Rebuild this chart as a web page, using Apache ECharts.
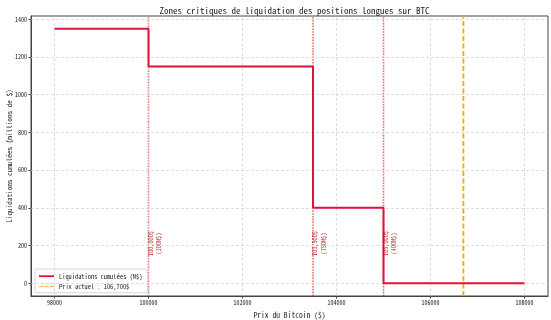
<!DOCTYPE html>
<html><head><meta charset="utf-8">
<script src="https://cdn.jsdelivr.net/npm/echarts@6/dist/echarts.min.js"></script>
<style>html,body{margin:0;padding:0;background:#fff}#c{width:551px;height:320px}</style>
</head><body><div id="c"></div>
<script>
// ---- data ----
const stepPrices = [98000, 100000, 103500, 105000, 108000];
const cumLiquidations = [1350, 1150, 400, 0, 0];
const zonePrices = [100000, 103500, 105000];
const zoneAmounts = [200, 750, 400];
const zoneLabels = ['100,000$\n(200M$)', '103,500$\n(750M$)', '105,000$\n(400M$)'];
const labelLevel = 200;
const currentPrice = 106700;
const xTicks = [98000, 100000, 102000, 104000, 106000, 108000];
const yTicks = [0, 200, 400, 600, 800, 1000, 1200, 1400];
const seriesName = 'Liquidations cumulées (M$)';
const priceName = 'Prix actuel : 106,700$';
const titleText = 'Zones critiques de liquidation des positions longues sur BTC';
const xName = 'Prix du Bitcoin ($)';
const yName = 'Liquidations cumulées (millions de $)';

const X_MIN = 97500, X_MAX = 108500, Y_MIN = -67.5, Y_MAX = 1417.5;
const FONT = "'Noto Sans Mono CJK SC','Noto Sans CJK SC','DejaVu Sans Mono',monospace";
const AX = '#444';
const RED = '#dc143c', ORANGE = '#ffa500';

const zoneSeries = zonePrices.map((p, i) => ({
  name: 'zone' + i, type: 'line', symbol: 'none', silent: true, z: 3,
  color: '#ff2020',
  data: [[p, Y_MIN], [p, Y_MAX]],
  lineStyle: {color: '#ff0000', opacity: 0.6, type: [1.6, 1.2], width: 1.6}
}));

const chart = echarts.init(document.getElementById('c'), null, {renderer: 'canvas'});
const option = {
  animation: false,
  backgroundColor: '#fff',
  textStyle: {fontFamily: FONT},
  title: {
    text: titleText, left: 289.5, textAlign: 'center', top: 1,
    textStyle: {fontFamily: FONT, fontSize: 9, fontWeight: 'normal', color: '#222'}
  },
  grid: {left: 31, right: 3, top: 16, bottom: 24, outerBoundsMode: 'none', containLabel: false,
         show: true, borderColor: AX, borderWidth: 1, backgroundColor: 'transparent'},
  legend: {
    left: 35, top: 269, orient: 'vertical',
    data: [
      {name: seriesName, icon: 'rect', itemStyle: {color: RED}},
      {name: priceName, icon: 'path://M0,0h5v1h-5z M7,0h5v1h-5z M14,0h5v1h-5z', itemStyle: {color: ORANGE}}
    ],
    itemWidth: 15, itemHeight: 1.8, itemGap: 4,
    textStyle: {fontFamily: FONT, fontSize: 6.4, color: '#222'},
    borderColor: '#ccc', borderWidth: 0.8, borderRadius: 2,
    padding: [4, 5, 3, 4], backgroundColor: 'rgba(255,255,255,0.8)'
  },
  xAxis: {
    type: 'value', min: X_MIN, max: X_MAX,
    name: xName, nameLocation: 'middle', nameGap: 15, nameMoveOverlap: false,
    nameTextStyle: {fontFamily: FONT, fontSize: 7.6, color: '#222'},
    axisLine: {onZero: false, lineStyle: {color: AX, width: 1}},
    axisTick: {show: true, customValues: xTicks, length: 2.5, lineStyle: {color: AX}},
    axisLabel: {customValues: xTicks, formatter: v => String(v), fontSize: 6, color: '#222', margin: 4, fontFamily: FONT},
    splitLine: {show: false}
  },
  yAxis: {
    type: 'value', min: Y_MIN, max: Y_MAX,
    name: yName, nameLocation: 'middle', nameGap: 18, nameRotate: 90, nameMoveOverlap: false,
    nameTextStyle: {fontFamily: FONT, fontSize: 7.2, color: '#222'},
    axisLine: {show: true, onZero: false, lineStyle: {color: AX, width: 1}},
    axisTick: {show: true, customValues: yTicks, length: 2.5, lineStyle: {color: AX}},
    axisLabel: {customValues: yTicks, formatter: v => String(v), fontSize: 6, color: '#222', margin: 4, fontFamily: FONT},
    splitLine: {show: false}
  },
  series: [
    {
      name: 'grid', type: 'line', data: [], silent: true,
      markLine: {
        silent: true, symbol: ['none', 'none'], label: {show: false}, animation: false,
        lineStyle: {color: '#d0d0d0', type: [3, 2], width: 0.7},
        data: xTicks.map(v => ({xAxis: v})).concat(yTicks.map(v => ({yAxis: v})))
      }
    },
    ...zoneSeries,
    {
      name: seriesName, type: 'line', step: 'end', symbol: 'none',
      data: stepPrices.map((p, i) => [p, cumLiquidations[i]]),
      lineStyle: {color: RED, width: 2},
      itemStyle: {color: RED},
      z: 5
    },
    {
      name: priceName, type: 'line', symbol: 'none',
      data: [[currentPrice, Y_MIN], [currentPrice, Y_MAX]],
      lineStyle: {color: ORANGE, width: 1.8, type: [5, 2.5]},
      itemStyle: {color: ORANGE},
      z: 4
    },
    {
      name: 'labels', type: 'scatter', symbolSize: 0, silent: true,
      data: zonePrices.map((p, i) => ({value: [p, labelLevel], amount: zoneAmounts[i], text: zoneLabels[i]})),
      label: {
        show: true, rotate: 90, position: 'inside', offset: [2, 6],
        formatter: p => p.data.text,
        fontSize: 6.2, lineHeight: 8.5, color: '#a00000', fontFamily: FONT, align: 'center', verticalAlign: 'middle'
      },
      z: 6
    }
  ]
};
chart.setOption(option);
</script></body></html>
